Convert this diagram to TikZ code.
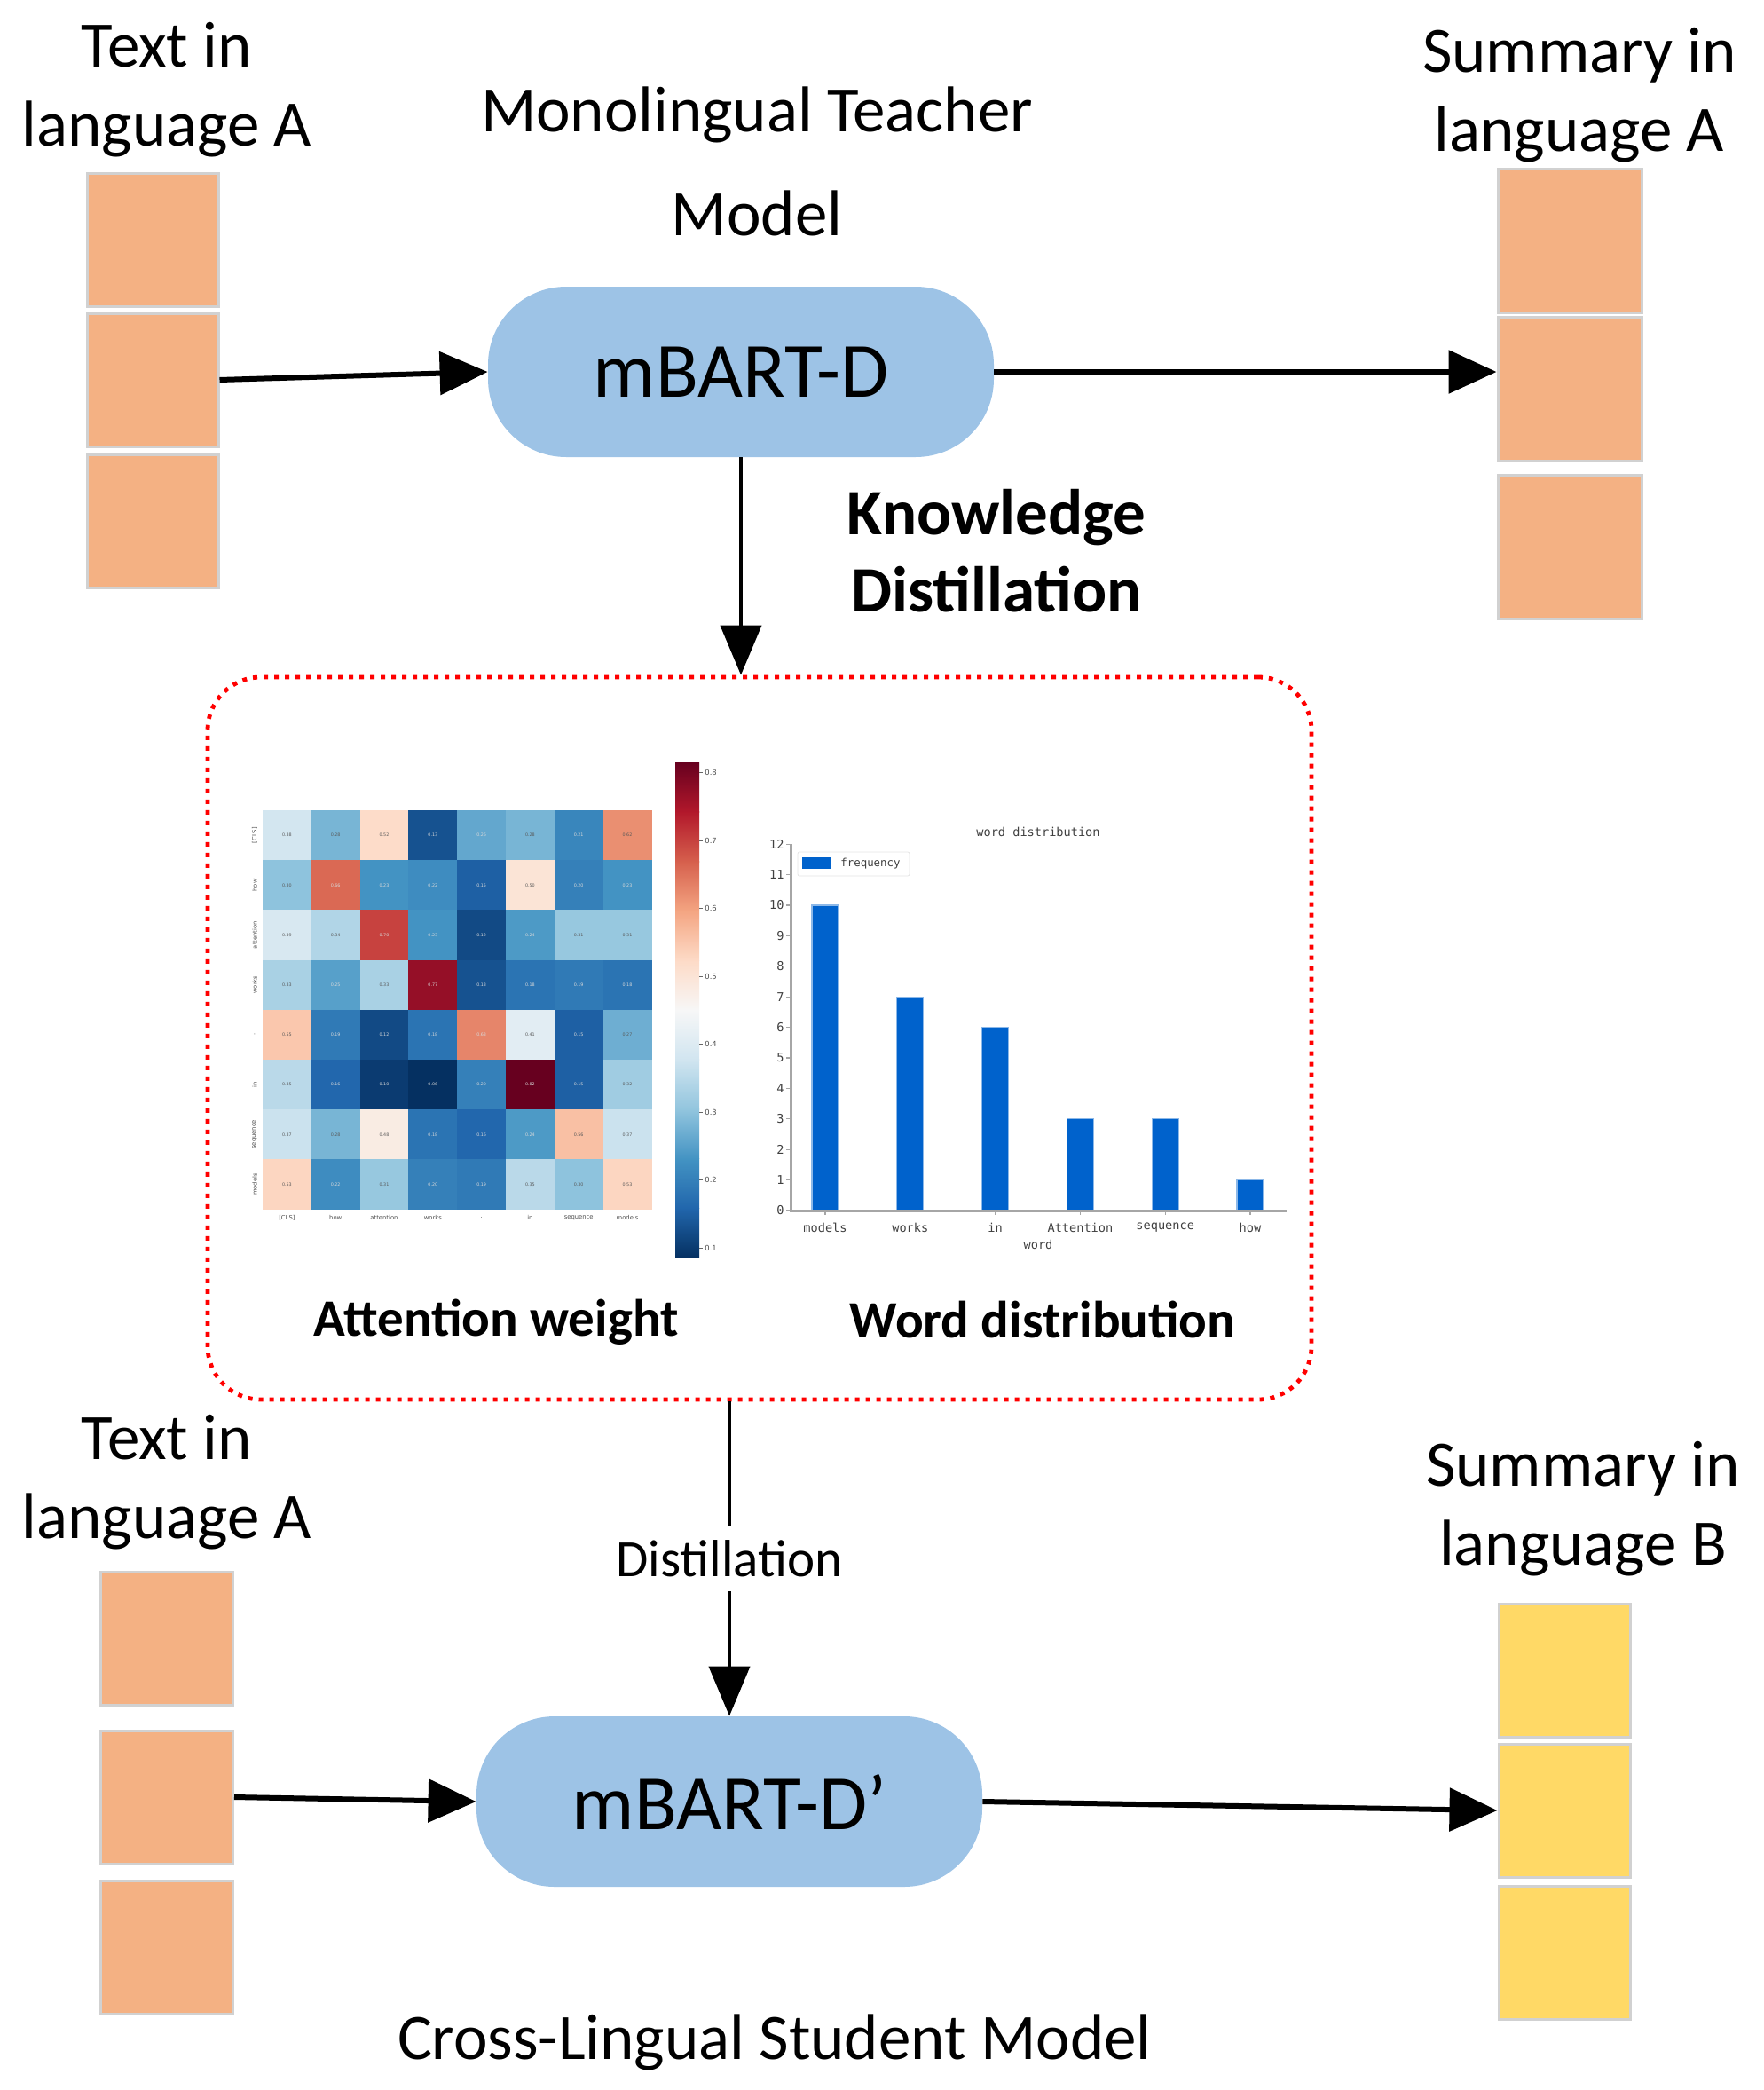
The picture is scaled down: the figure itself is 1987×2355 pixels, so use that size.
\documentclass[tikz,border=0pt]{standalone}
\usepackage{fontspec}
\setmainfont{Carlito}
\setmonofont{DejaVu Sans Mono}
\newfontfamily\plotfont{DejaVu Sans}
\usetikzlibrary{arrows.meta}
\usetikzlibrary{calc}
\definecolor{boxorange}{HTML}{F4B183}
\definecolor{boxyellow}{HTML}{FFD966}
\definecolor{modelblue}{HTML}{9DC3E6}
\definecolor{barblue}{HTML}{0062CC}
\definecolor{axisgray}{HTML}{A6A6A6}
\definecolor{rdbu0}{HTML}{053061}
\definecolor{rdbu1}{HTML}{2166AC}
\definecolor{rdbu2}{HTML}{4393C3}
\definecolor{rdbu3}{HTML}{92C5DE}
\definecolor{rdbu4}{HTML}{D1E5F0}
\definecolor{rdbu5}{HTML}{F7F7F7}
\definecolor{rdbu6}{HTML}{FDDBC7}
\definecolor{rdbu7}{HTML}{F4A582}
\definecolor{rdbu8}{HTML}{D6604D}
\definecolor{rdbu9}{HTML}{B2182B}
\definecolor{rdbu10}{HTML}{67001F}
\newcommand\heatcolor[1]{%
    \pgfmathsetmacro\heatt{max(0,min(9.99,(#1-0.085)*13.68))}%
    \pgfmathtruncatemacro\heati{floor(\heatt)}%
    \pgfmathtruncatemacro\heatj{\heati+1}%
    \pgfmathtruncatemacro\heatp{100-(\heatt-\heati)*100}%
    \colorlet{cellcol}{rdbu\heati!\heatp!rdbu\heatj}%
    \pgfmathtruncatemacro\heatdark{(#1<0.27)||(#1>0.62)}%
    \ifnum\heatdark=1 \colorlet{numcol}{white!85!black}\else\colorlet{numcol}{black!65}\fi}
\tikzset{
    cellA/.style={draw=black!18, line width=1.5pt, fill=boxorange, minimum width=74pt, minimum height=75pt, inner sep=0pt},
    cellB/.style={cellA, fill=boxyellow},
    model/.style={fill=modelblue, rounded corners=44pt, minimum width=285pt, minimum height=96pt, inner sep=0pt, font=\fontsize{44}{52}\selectfont},
    lbl/.style={font=\fontsize{36.5}{44.5}\selectfont, align=center, inner sep=0pt},
    boldlbl/.style={font=\fontsize{36.5}{43.5}\selectfont\bfseries, align=center, inner sep=0pt},
    sublbl/.style={font=\fontsize{29.5}{36}\selectfont\bfseries, inner sep=0pt},
    bigarrow/.style={line width=3pt, -{Triangle[length=27pt, width=24pt]}},
    thinarrow/.style={line width=2pt, -{Triangle[length=28pt, width=23pt]}},
    heatnum/.style={font=\plotfont\fontsize{2.4}{3}\selectfont, inner sep=0pt},
    heattick/.style={font=\plotfont\fontsize{3.4}{4}\selectfont, text=black!70, inner sep=0pt},
    charttxt/.style={font=\ttfamily\fontsize{6.8}{8}\selectfont, text=black!75, inner sep=0pt}
}
\begin{document}
\begin{tikzpicture}[x=0.5pt, y=-0.5pt]
    \useasboundingbox (0,0) rectangle (1987,2355);
    \node[lbl] (textA) at (188,101) {Text in\\language A};
    \node[cellA] (inA1) at (172,270) {};
    \node[cellA] (inA2) at (172,428) {};
    \node[cellA] (inA3) at (172,587) {};
    \node[lbl] (teachlbl) at (853,182) {Monolingual Teacher\\[14pt]Model};
    \node[model] (teacher) at (835,419) {mBART-D};
    \node[lbl] (sumA) at (1780,107) {Summary in\\language A};
    \node[cellA, minimum width=81pt, minimum height=81pt] (outA1) at (1769,271) {};
    \node[cellA, minimum width=81pt, minimum height=81pt] (outA2) at (1769,438) {};
    \node[cellA, minimum width=81pt, minimum height=81pt] (outA3) at (1769,616) {};
    \draw[bigarrow] (inA2.east) -- (teacher.west);
    \draw[bigarrow] (teacher.east) -- (teacher.east -| outA2.west);
    \node[boldlbl] (kdlbl) at (1123,621) {Knowledge\\Distillation};
    \node[draw=red, line width=2.4pt, dash pattern=on 2.5pt off 3.5pt, rounded corners=30pt,
        minimum width=622pt, minimum height=407pt] (kdbox) at (856,1170) {};
    \draw[thinarrow] (teacher.south) -- (teacher.south |- kdbox.north);
    \foreach \rowvals [count=\r] in {
        {0.38,0.28,0.52,0.13,0.26,0.28,0.21,0.62},
        {0.30,0.66,0.23,0.22,0.15,0.50,0.20,0.23},
        {0.39,0.34,0.70,0.23,0.12,0.24,0.31,0.31},
        {0.33,0.25,0.33,0.77,0.13,0.18,0.19,0.18},
        {0.55,0.19,0.12,0.18,0.63,0.41,0.15,0.27},
        {0.35,0.16,0.10,0.06,0.20,0.82,0.15,0.32},
        {0.37,0.28,0.48,0.18,0.16,0.24,0.56,0.37},
        {0.53,0.22,0.31,0.20,0.19,0.35,0.30,0.53}} {
        \foreach \v [count=\c] in \rowvals {
            \heatcolor{\v}
            \fill[cellcol] ({296+(\c-1)*54.8},{913+(\r-1)*56.2}) rectangle +(54.9,56.3);
            \node[heatnum, text=numcol] (hv\r\c) at ({296+(\c-0.5)*54.8},{913+(\r-0.5)*56.2}) {\v};
        }
    }
    \foreach \w [count=\i] in {{[CLS]},how,attention,works,.,in,sequence,models} {
        \node[heattick, rotate=90] (hrow\i) at (287,{913+(\i-0.5)*56.2}) {\w};
        \node[heattick] (hcol\i) at ({296+(\i-0.5)*54.8},1372) {\w};
    }
    \foreach \k in {0,...,9} {
        \pgfmathtruncatemacro\kk{\k+1}
        \shade[bottom color=rdbu\k, top color=rdbu\kk] (761,{1417-\k*55.8+0.5}) rectangle (788,{1417-(\k+1)*55.8});
    }
    \foreach \n in {1,...,8} {
        \draw[black!60, line width=0.4pt] (788,{1406-(\n-1)*76.5}) -- (792,{1406-(\n-1)*76.5});
        \node[heattick, anchor=west, font=\plotfont\fontsize{4.2}{5}\selectfont] (cb\n) at (794,{1406-(\n-1)*76.5}) {0.\n};
    }
    \node[charttxt] (wdtitle) at (1170,937) {word distribution};
    \foreach \w/\h [count=\i] in {models/10,works/7,in/6,Attention/3,sequence/3,how/1} {
        \fill[barblue, draw=barblue!45!white, line width=0.6pt] ({930+(\i-1)*95.8-15},1364) rectangle ({930+(\i-1)*95.8+15},{1364-\h*34.4});
        \draw[axisgray, line width=0.6pt] ({930+(\i-1)*95.8},1364) -- ({930+(\i-1)*95.8},1369);
        \node[charttxt] (bar\i) at ({930+(\i-1)*95.8},1383) {\w};
    }
    \foreach \n in {0,...,12} {
        \draw[axisgray, line width=0.6pt] (886,{1364-\n*34.4}) -- (891,{1364-\n*34.4});
        \node[charttxt, anchor=east] (yt\n) at (884,{1364-\n*34.4}) {\n};
    }
    \draw[axisgray, line width=1.5pt] (891,951) -- (891,1364) -- (1450,1364);
    \node[charttxt] (wdx) at (1170,1402) {word};
    \draw[black!10, rounded corners=1pt, fill=white] (899,960) rectangle (1025,987);
    \fill[barblue] (904,966) rectangle (936,979);
    \node[charttxt, anchor=west, font=\ttfamily\fontsize{6.2}{7}\selectfont] (leg) at (947,973) {frequency};
    \node[sublbl] (attlbl) at (559,1490) {Attention weight};
    \node[sublbl] (wdlbl) at (1175,1487) {Word distribution};
    \node[lbl] (textB) at (188,1670) {Text in\\language A};
    \node[cellA, minimum width=74.5pt] (inB1) at (188,1846) {};
    \node[cellA, minimum width=74.5pt] (inB2) at (188,2025) {};
    \node[cellA, minimum width=74.5pt] (inB3) at (188,2194) {};
    \node[model] (student) at (822,2030) {mBART-D’};
    \node[lbl] (sumB) at (1784,1700) {Summary in\\language B};
    \node[cellB] (outB1) at (1763,1882) {};
    \node[cellB] (outB2) at (1763,2040) {};
    \node[cellB] (outB3) at (1763,2200) {};
    \draw[bigarrow] (inB2.east) -- (student.west);
    \draw[bigarrow] (student.east) -- (outB2.west);
    \draw[thinarrow] (kdbox.south -| student.north) -- node[fill=white, inner sep=8pt, font=\fontsize{29.5}{36}\selectfont] (distil) {Distillation} (student.north);
    \node[lbl] (stulbl) at (873,2301) {Cross-Lingual Student Model};
\end{tikzpicture}
\end{document}
